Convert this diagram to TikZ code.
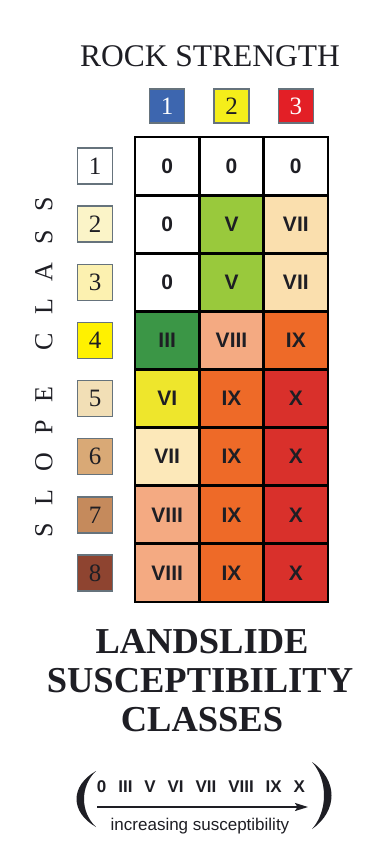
\documentclass[tikz,border=0pt]{standalone}
\usepackage{fontspec}
\setmainfont{Liberation Serif}
\setsansfont{Liberation Sans}
\usetikzlibrary{arrows.meta}
\definecolor{cV}{HTML}{99C93C}
\definecolor{cVII}{HTML}{FADFAE}
\definecolor{cVIIb}{HTML}{FCE8B9}
\definecolor{cIII}{HTML}{3B9646}
\definecolor{cVIII}{HTML}{F4AA82}
\definecolor{cIX}{HTML}{EE6A28}
\definecolor{cX}{HTML}{D9302B}
\definecolor{cVI}{HTML}{EEE62C}
\definecolor{sA}{HTML}{FFFFFF}
\definecolor{sB}{HTML}{FBF4C8}
\definecolor{sC}{HTML}{FCF1B0}
\definecolor{sD}{HTML}{FFF100}
\definecolor{sE}{HTML}{F2DFB6}
\definecolor{sF}{HTML}{D9A976}
\definecolor{sG}{HTML}{C58A5C}
\definecolor{sH}{HTML}{8E4430}
\definecolor{rBlue}{HTML}{3D66AF}
\definecolor{rYellow}{HTML}{F5EE1A}
\definecolor{rRed}{HTML}{E31F26}
\definecolor{boxgray}{HTML}{66737C}
\definecolor{ink}{HTML}{1E1E24}
\begin{document}
\begin{tikzpicture}[x=1pt,y=1pt,
  cell/.style={draw=black, line width=2.8pt, minimum width=64.33pt, minimum height=58.125pt,
    inner sep=0pt, text=ink, font=\sffamily\bfseries\fontsize{21}{21}\selectfont},
  sbox/.style={draw=boxgray, line width=1.4pt, minimum width=35pt, minimum height=36pt,
    inner sep=0pt, text=ink, font=\fontsize{25}{25}\selectfont},
  rbox/.style={draw=boxgray, line width=1.4pt, minimum width=35pt, minimum height=34pt,
    inner sep=0pt, font=\fontsize{25}{25}\selectfont},
  title/.style={inner sep=0pt, anchor=base, text=ink},
]
\useasboundingbox (0,0) rectangle (383,-856);
\fill[white] (0,0) rectangle (383,-856);

% heading
\node[title, font=\fontsize{31.5}{31.5}\selectfont] (rock) at (210,-67) {ROCK STRENGTH};
\node[rbox, fill=rBlue, text=white] (r1) at (167.17,-106) {1};
\node[rbox, fill=rYellow, text=ink] (r2) at (231.5,-106) {2};
\node[rbox, fill=rRed, text=white] (r3) at (295.83,-106) {3};

% slope label
\node[inner sep=0pt, rotate=90, text=ink, font=\fontsize{26}{26}\selectfont] (slope) at (44,-367.5)
  {S\hspace{18pt}L\hspace{18pt}O\hspace{18pt}P\hspace{18pt}E\hspace{36pt}C\hspace{18pt}L\hspace{18pt}A\hspace{18pt}S\hspace{18pt}S};

% slope boxes
\foreach \r/\col in {1/sA,2/sB,3/sC,4/sD,5/sE,6/sF,7/sG,8/sH}{
  \node[sbox, fill=\col] (s\r) at (95,{-137-58.125*(\r-0.5)}) {\r};
}

% grid
\foreach \r/\a/\ca/\b/\cb/\c/\cc in {
  1/0/white/0/white/0/white,
  2/0/white/V/cV/VII/cVII,
  3/0/white/V/cV/VII/cVII,
  4/III/cIII/VIII/cVIII/IX/cIX,
  5/VI/cVI/IX/cIX/X/cX,
  6/VII/cVIIb/IX/cIX/X/cX,
  7/VIII/cVIII/IX/cIX/X/cX,
  8/VIII/cVIII/IX/cIX/X/cX}{
  \node[cell, fill=\ca] (c\r-1) at (167.17,{-137-58.125*(\r-0.5)}) {\a};
  \node[cell, fill=\cb] (c\r-2) at (231.5,{-137-58.125*(\r-0.5)}) {\b};
  \node[cell, fill=\cc] (c\r-3) at (295.83,{-137-58.125*(\r-0.5)}) {\c};
}

% bottom title
\node[title, font=\bfseries\fontsize{36.5}{36.5}\selectfont] (t1) at (202,-653) {LANDSLIDE};
\node[title, font=\bfseries\fontsize{36.5}{36.5}\selectfont] (t2) at (200,-692) {SUSCEPTIBILITY};
\node[title, font=\bfseries\fontsize{36.5}{36.5}\selectfont] (t3) at (202,-731) {CLASSES};

% scale
\node[title, font=\sffamily\bfseries\fontsize{17}{17}\selectfont] (scale) at (201,-792)
  {0\hspace{11.9pt}III\hspace{11.9pt}V\hspace{11.9pt}VI\hspace{11.9pt}VII\hspace{11.9pt}VIII\hspace{11.9pt}IX\hspace{11.9pt}X};
\coordinate (arrS) at (97,-807);
\coordinate (arrE) at (308,-807);
\draw[ink, line width=1.6pt, -{Stealth[length=13pt,width=8pt,inset=2.5pt]}] (arrS) -- (arrE);
\node[title, font=\sffamily\fontsize{17}{17}\selectfont] (incr) at (200,-830) {increasing susceptibility};

% parentheses
\fill[ink] (96,-771) .. controls (70,-786) and (70,-812) .. (96,-827)
  .. controls (80,-812) and (80,-786) .. (96,-771);
\fill[ink] (312,-762) .. controls (338,-780) and (338,-811) .. (312,-829)
  .. controls (328,-811) and (328,-780) .. (312,-762);
\end{tikzpicture}
\end{document}
